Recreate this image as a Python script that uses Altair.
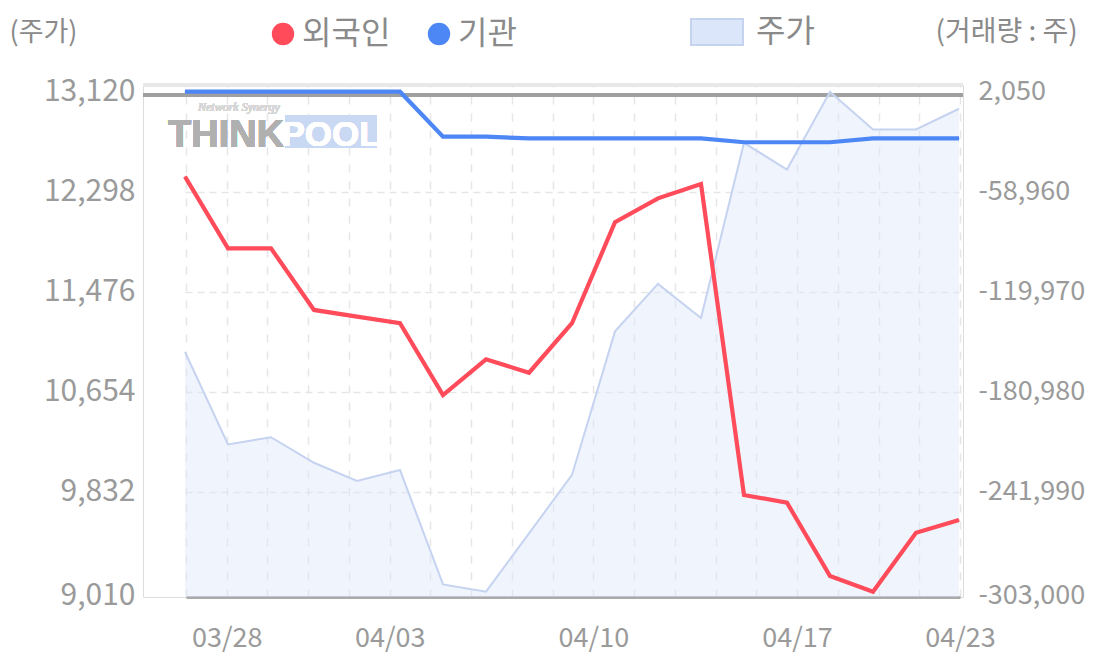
import json
import altair as alt
import pandas as pd

# ---------------- data ----------------
day_index = list(range(19))
price = [10980, 10220, 10280, 10070, 9920, 10010, 9070, 9010, 9490, 9970,
         11150, 11540, 11260, 12700, 12480, 13120, 12810, 12810, 12980]
foreign = [-49800, -93500, -93500, -131100, -135200, -139200, -183000, -161200, -169400, -139200,
           -77600, -63000, -54300, -244000, -248700, -293400, -303000, -267000, -259300]
institution = [2050, 2050, 2050, 2050, 2050, 2050, -25400, -25400, -26400, -26400,
               -26400, -26400, -26400, -28800, -28800, -28800, -26400, -26400, -26400]
series_names = ["외국인", "기관"]
series_colors = ["#ff4b5a", "#4d86f5"]
price_name = "주가"

axis_days = ["03/27", "03/28", "03/31", "04/01", "04/02", "04/03", "04/04", "04/07", "04/08", "04/09",
             "04/10", "04/11", "04/14", "04/15", "04/16", "04/17", "04/18", "04/21", "04/22", "04/23"]
shown_days = ["03/28", "04/03", "04/10", "04/17", "04/23"]
left_ticks = [9010, 9832, 10654, 11476, 12298, 13120]
right_ticks = [-303000, -241990, -180980, -119970, -58960, 2050]

# ---------------- layout ----------------
W, H = 820, 512
FONT = "Noto Sans CJK KR"
LABEL_GRAY = "#9a9a9a"
NUM_EXPR = "replace(format(datum.value, ',.0f'), '\u2212', '-')"

price_df = pd.DataFrame({"idx": day_index, "price": price, "legend": price_name})
flow_df = pd.concat([
    pd.DataFrame({"idx": day_index, "series": name, "value": vals})
    for name, vals in zip(series_names, [foreign, institution])
], ignore_index=True)
axis_df = pd.DataFrame({"slot": list(range(len(axis_days))), "day": axis_days})

x_data = alt.Scale(domain=[0, len(day_index) - 1], range=[42, 816], nice=False, zero=False)
y_left = alt.Scale(domain=[left_ticks[0], left_ticks[-1]], range=[506.7, 6.7], nice=False, zero=False)
y_right = alt.Scale(domain=[right_ticks[0], right_ticks[-1]], range=[506.7, 6.7], nice=False, zero=False)
color_scale = alt.Scale(domain=series_names, range=series_colors)

label_list = [d if d in shown_days else "" for d in axis_days]
label_expr = json.dumps(label_list, ensure_ascii=False) + "[datum.value]"

date_axis = alt.Chart(axis_df).mark_tick(opacity=0).encode(
    x=alt.X("slot:Q",
            scale=alt.Scale(domain=[0, len(axis_days) - 1], range=[43, 817], nice=False, zero=False),
            axis=alt.Axis(values=list(range(len(axis_days))), labelExpr=label_expr, title=None,
                          ticks=False, domain=True, domainColor="#aaaaaa", domainWidth=3,
                          grid=True, gridDash=[8, 9], gridColor="#e6e6e6", gridWidth=1.5,
                          labelFontSize=27, labelColor=LABEL_GRAY, labelFont=FONT,
                          labelPadding=28, labelFlush=False, labelOverlap=False))
)

frame_light = alt.Chart(price_df).mark_rule(color="#e8e8e8", strokeWidth=3).encode(
    x=alt.value(0), x2=alt.value(W), y=alt.value(0)
)
frame_dark = alt.Chart(price_df).mark_rule(color="#a0a0a0", strokeWidth=2.5).encode(
    x=alt.value(0), x2=alt.value(W), y=alt.value(10)
)

area = alt.Chart(price_df).mark_area(fillOpacity=0.45, clip=True).encode(
    x=alt.X("idx:Q", scale=x_data, axis=None),
    y=alt.Y("price:Q", scale=y_left,
            axis=alt.Axis(orient="left", values=left_ticks, labelExpr=NUM_EXPR, ticks=False, domain=False,
                          grid=True, gridDash=[7, 5], gridColor="#e6e6e6", gridWidth=1.5,
                          gridOpacity=alt.condition(f"datum.value > {left_ticks[0]} && datum.value < {left_ticks[-1]}",
                                                    alt.value(1), alt.value(0)),
                          labelOffset=alt.condition(f"datum.value == {left_ticks[0]}", alt.value(4), alt.value(0)),
                          labelFontSize=30, labelColor=LABEL_GRAY, labelFont=FONT, labelPadding=8,
                          labelFlush=False,
                          title="(주가)", titleAngle=0, titleX=-134, titleY=-53, titleAlign="left",
                          titleBaseline="middle", titleFontSize=27, titleFont=FONT,
                          titleColor="#8a8a8a", titleFontWeight="normal")),
    fill=alt.Fill("legend:N", scale=alt.Scale(domain=[price_name], range=["#dce6fa"]),
                  legend=alt.Legend(orient="none", legendX=547, legendY=-80, title=None,
                                    symbolType="M-1,-0.5L1,-0.5L1,0.5L-1,0.5Z", symbolSize=2704,
                                    symbolStrokeColor="#c5d3ef", symbolStrokeWidth=2,
                                    labelFontSize=32, labelFont=FONT, labelColor="#8a8a8a",
                                    labelOffset=12, labelLimit=0, padding=0)),
)

area_line = alt.Chart(price_df).mark_line(color="#c6d3f0", strokeWidth=2).encode(
    x=alt.X("idx:Q", scale=x_data, axis=None),
    y=alt.Y("price:Q", scale=y_left, axis=None),
)

lines = alt.Chart(flow_df).mark_line(strokeWidth=4.2, strokeJoin="miter").encode(
    x=alt.X("idx:Q", scale=x_data, axis=None),
    y=alt.Y("value:Q", scale=y_right,
            axis=alt.Axis(orient="right", values=right_ticks, labelExpr=NUM_EXPR, ticks=False, domain=False,
                          grid=False, labelFontSize=27, labelColor=LABEL_GRAY, labelFont=FONT,
                          labelOffset=alt.condition(f"datum.value == {right_ticks[0]}", alt.value(4), alt.value(0)),
                          labelPadding=15, labelFlush=False,
                          title="(거래량 : 주)", titleAngle=0, titleX=-28, titleY=-53, titleAlign="left",
                          titleBaseline="middle", titleFontSize=28, titleFont=FONT,
                          titleColor="#8a8a8a", titleFontWeight="normal")),
    color=alt.Color("series:N", scale=color_scale, legend=None),
    detail="series:N",
)

# filled dots that only serve the series legend (hidden under the lines)
legend_dots = alt.Chart(flow_df).mark_circle(size=1, opacity=1).encode(
    x=alt.X("idx:Q", scale=x_data, axis=None),
    y=alt.Y("value:Q", scale=y_right, axis=None),
    color=alt.Color("series:N", scale=color_scale,
                    legend=alt.Legend(orient="none", legendX=124, legendY=-67, direction="horizontal",
                                      title=None, symbolType="circle", symbolSize=500,
                                      labelFontSize=32, labelFont=FONT, labelColor="#8a8a8a",
                                      columnPadding=32, labelOffset=3, labelLimit=0, padding=0)),
)

# ThinkPool watermark
wm_think = alt.Chart(price_df).mark_text(text="THINK", font="Liberation Sans", fontWeight="bold",
                                         fontSize=38, color="#b0b0b0", align="left",
                                         baseline="alphabetic").encode(x=alt.value(25), y=alt.value(62))
wm_box = alt.Chart(price_df).mark_rect(color="#c9d8f3").encode(
    x=alt.value(142), x2=alt.value(234), y=alt.value(30), y2=alt.value(63))
wm_pool = alt.Chart(price_df).mark_text(text="POOL", font="Liberation Sans", fontWeight="bold",
                                        fontSize=35, color="#ffffff", align="center",
                                        baseline="alphabetic").encode(x=alt.value(188), y=alt.value(61))
wm_small = alt.Chart(price_df).mark_text(text="Network Synergy", font="Liberation Serif", fontStyle="italic",
                                         fontWeight="normal", fontSize=12, color="#d6d6d6", align="left",
                                         baseline="middle").encode(x=alt.value(55), y=alt.value(22))

chart = alt.layer(
    date_axis, frame_light, frame_dark, area, area_line, lines, legend_dots,
    wm_think, wm_box, wm_pool, wm_small
).resolve_scale(
    x="independent", y="independent", color="independent", fill="independent"
).properties(
    width=W, height=H,
    autosize=alt.AutoSizeParams(type="none"),
    padding={"left": 135, "top": 77, "right": 128, "bottom": 58},
).configure_view(stroke=None).configure(font=FONT)

chart.save("out.html", embed_options={"renderer": "svg", "actions": False})
